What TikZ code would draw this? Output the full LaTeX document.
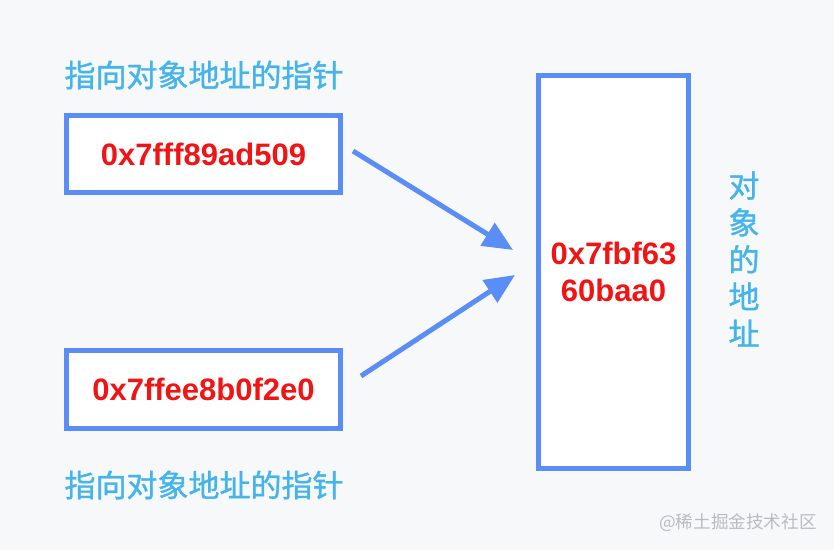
\documentclass[tikz,border=0pt]{standalone}
\usepackage{fontspec}
\setmainfont{Liberation Sans}
\newfontfamily\cjk{Noto Sans CJK SC}
\newfontfamily\cjkm[FakeBold=1.2]{Noto Sans CJK SC}
\usetikzlibrary{arrows.meta, positioning}
\definecolor{bgcol}{HTML}{F7F8FA}
\definecolor{boxblue}{HTML}{5B8DF6}
\definecolor{labelblue}{HTML}{45B4EA}
\definecolor{addrred}{HTML}{F01414}
\definecolor{markgray}{HTML}{B8BCC2}
\tikzset{
  addrbox/.style = {draw = boxblue, fill = white, line width = 2.5pt, inner sep = 0},
  addr/.style = {text = addrred, font = \fontsize{15.5}{18.5}\selectfont\bfseries},
  lbl/.style = {text = labelblue, font = \cjkm\fontsize{15.5}{18.5}\selectfont, inner sep = 0},
  ptr/.style = {draw = boxblue, line width = 2.5pt, -{Triangle[length = 15pt, width = 13pt]}}
}

\begin{document}
\begin{tikzpicture}[x = 0.5pt, y = -0.5pt]
    \fill [bgcol] (0, 0) rectangle (834, 550);

    \node [addrbox, addr, minimum width = 137pt, minimum height = 38.5pt] (ptrA) at (203.5, 154) {0x7fff89ad509};
    \node [addrbox, addr, minimum width = 137pt, minimum height = 39pt] (ptrB) at (203.5, 389.5) {0x7ffee8b0f2e0};
    \node [addrbox, addr, align = center, minimum width = 75pt, minimum height = 196.5pt] (obj) at (613.5, 272) {0x7fbf63\\60baa0};

    \node [lbl] (lblA) at (204, 75) {指向对象地址的指针};
    \node [lbl] (lblB) at (204, 485) {指向对象地址的指针};
    \node [lbl, align = center] (lblObj) at (744, 259) {对\\象\\的\\地\\址};

    \draw [ptr] ([xshift = 5pt, yshift = 1.5pt]ptrA.east) -- ([xshift = -11.5pt, yshift = 11pt]obj.west);
    \draw [ptr] ([xshift = 9pt, yshift = 6.75pt]ptrB.east) -- ([xshift = -10.5pt, yshift = -1.5pt]obj.west);

    \node [text = markgray, font = \cjk\fontsize{8.8}{10}\selectfont, inner sep = 0] (mark) at (738, 523) {@稀土掘金技术社区};
  \end{tikzpicture}
\end{document}
